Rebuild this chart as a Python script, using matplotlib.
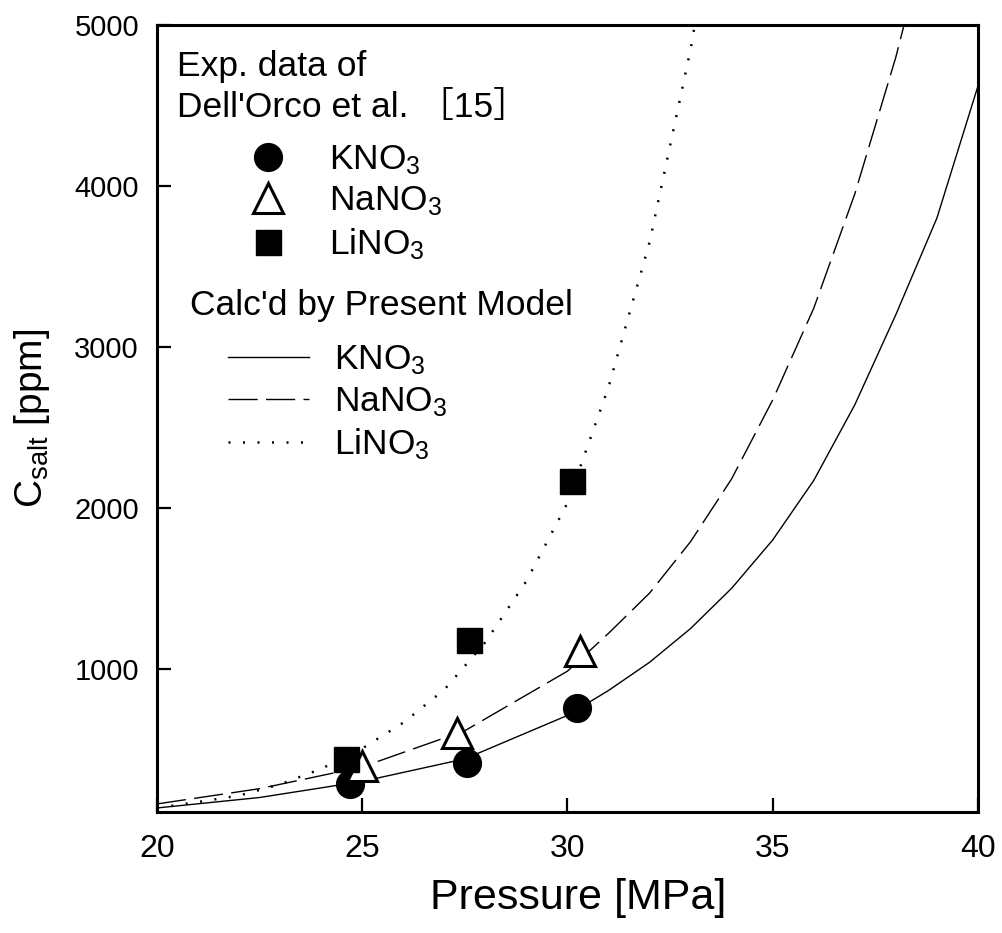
import matplotlib
matplotlib.use("Agg")
import matplotlib.pyplot as plt

plt.rcParams["font.family"] = ["Liberation Sans", "Noto Sans CJK JP"]
plt.rcParams["mathtext.fontset"] = "custom"
plt.rcParams["mathtext.rm"] = "Liberation Sans"
plt.rcParams["mathtext.default"] = "regular"

# experimental points (Dell'Orco et al.)
k_p = [24.7, 27.55, 30.23]
k_c = [285, 416, 755]
na_p = [25.0, 27.3, 30.3]
na_c = [395, 600, 1110]
li_p = [24.6, 27.6, 30.1]
li_c = [440, 1180, 2168]

# model curves
k_curve_p = [20, 22.5, 25, 27.5, 30, 31, 32, 33, 34, 35, 36, 37, 38, 39, 40]
k_curve_c = [135, 200, 300, 440, 710, 865, 1040, 1250, 1500, 1800, 2170,
             2640, 3200, 3800, 4620]
na_curve_p = [20, 22.5, 25, 27.5, 30, 31, 32, 33, 34, 35, 36, 37, 38, 38.2]
na_curve_c = [160, 255, 390, 615, 985, 1220, 1470, 1790, 2180, 2670, 3240,
              3950, 4800, 5000]
li_curve_p = [20, 21, 22, 23, 24, 25, 26, 27, 28, 29, 30, 31, 32, 33, 33.1]
li_curve_c = [135, 172, 212, 282, 378, 505, 665, 870, 1165, 1545, 2030,
              2750, 3650, 4850, 5000]

FS = 25.5

fig = plt.figure(figsize=(10.02, 9.33), dpi=100)
ax = fig.add_axes([0.1567, 0.1297, 0.8193, 0.8436])

line_k, = ax.plot(k_curve_p, k_curve_c, color="black", lw=1.0, label="KNO$_3$")
line_na, = ax.plot(na_curve_p, na_curve_c, color="black", lw=1.0,
                   dashes=(21, 6), label="NaNO$_3$")
line_li, = ax.plot(li_curve_p, li_curve_c, color="black", lw=1.8,
                   linestyle=(0, (0.8, 5.0)), label="LiNO$_3$")

pt_k, = ax.plot(k_p, k_c, "o", color="black", ms=20, ls="none", label="KNO$_3$")
pt_na, = ax.plot(na_p, na_c, "^", mfc="white", mec="black", mew=2.2, ms=21,
                 ls="none", label="NaNO$_3$")
pt_li, = ax.plot(li_p, li_c, "s", color="black", ms=18, ls="none",
                 label="LiNO$_3$")

ax.set_xlim(20, 40)
ax.set_ylim(110, 5000)
ax.set_xticks([20, 25, 30, 35, 40])
ax.set_yticks([1000, 2000, 3000, 4000, 5000])

for s in ax.spines.values():
    s.set_linewidth(2.2)
ax.tick_params(direction="in", length=10, width=1.6, top=False, right=False)
ax.tick_params(axis="y", labelsize=21, pad=13)
ax.tick_params(axis="x", labelsize=23, pad=16)

ax.set_xlabel("Pressure [MPa]", fontsize=31)
ax.xaxis.set_label_coords(0.513, -0.084)
ax.set_ylabel("C$_{salt}$ [ppm]", fontsize=28)
ax.yaxis.set_label_coords(-0.128, 0.5)

# legend titles
ax.text(0.024, 0.935, "Exp. data of", transform=ax.transAxes, fontsize=FS,
        va="baseline", ha="left")
ax.text(0.024, 0.883, "Dell'Orco et al. ［15］", transform=ax.transAxes,
        fontsize=FS, va="baseline", ha="left")
ax.text(0.040, 0.6315, "Calc'd by Present Model", transform=ax.transAxes,
        fontsize=FS, va="baseline", ha="left")

leg1 = ax.legend(handles=[pt_k, pt_na, pt_li], loc="upper left",
                 bbox_to_anchor=(0.112, 0.85), frameon=False, fontsize=FS,
                 handlelength=1.1, handletextpad=1.15, labelspacing=0.22,
                 borderpad=0, borderaxespad=0, markerscale=1.0)
ax.add_artist(leg1)
ax.legend(handles=[line_k, line_na, line_li], loc="upper left",
          bbox_to_anchor=(0.0865, 0.595), frameon=False, fontsize=FS,
          handlelength=2.3, handletextpad=0.7, labelspacing=0.22,
          borderpad=0, borderaxespad=0)

fig.savefig("out.png", dpi=100)
